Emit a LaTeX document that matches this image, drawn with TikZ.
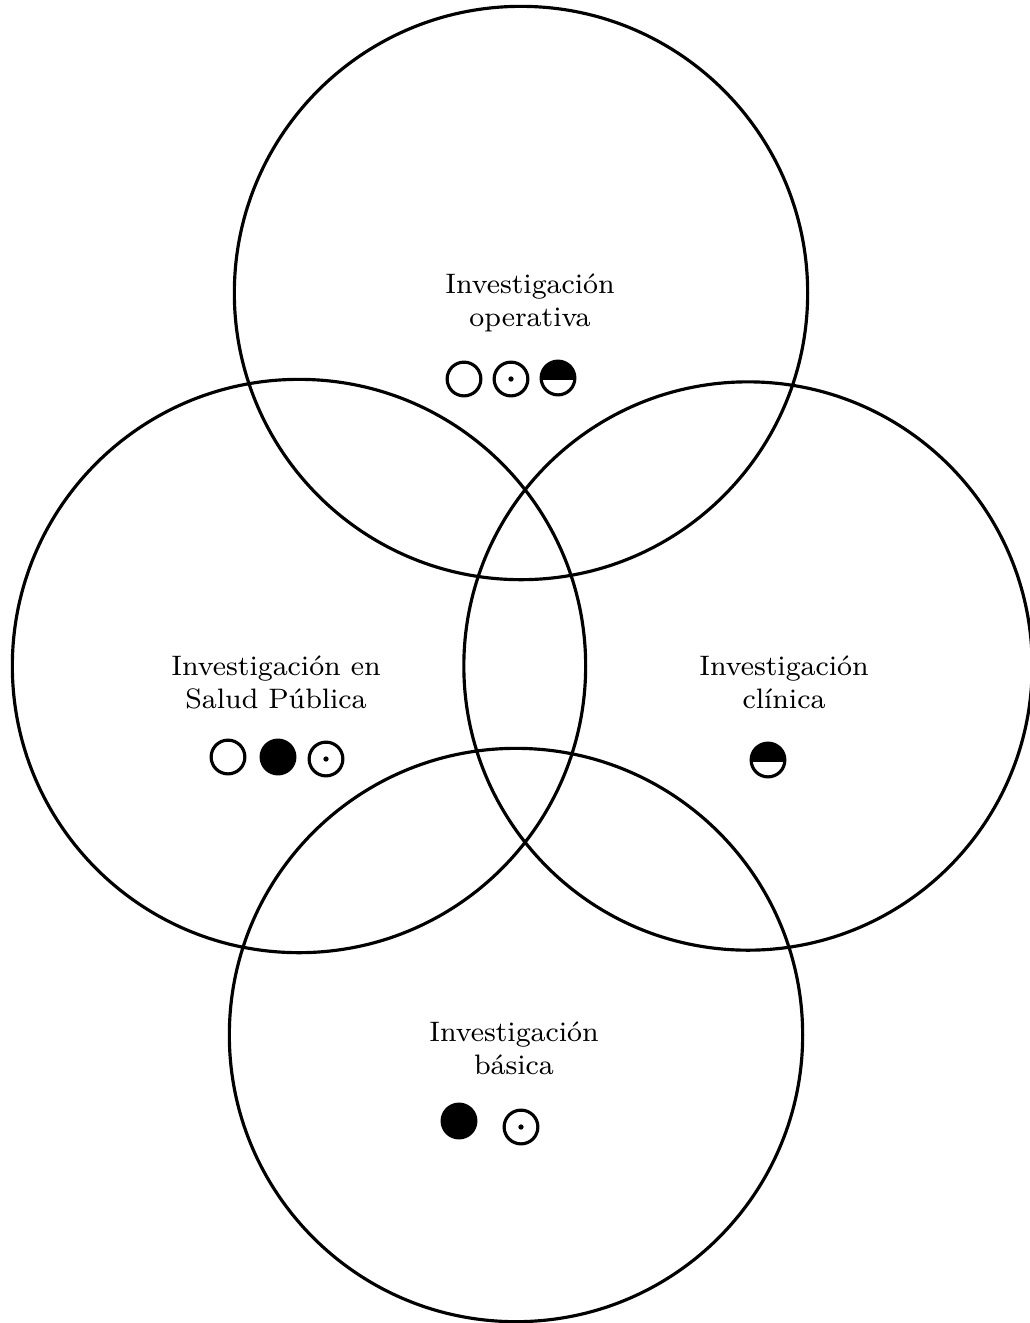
\documentclass[tikz,border=0pt]{standalone}
\begin{document}
\begin{tikzpicture}[x=0.01cm,y=-0.01cm,
    circulo/.style={line width=0.9pt},
    rotulo/.style={align=center,font=\fontsize{8}{9.4}\selectfont},
    simbolo/.style={circle,draw,line width=0.9pt,minimum size=9.6pt,inner sep=0pt},
    vacio/.style={simbolo},
    lleno/.style={simbolo,fill=black},
    punto/.style={simbolo,path picture={\fill (path picture bounding box.center) circle (0.75pt);}},
    mitad/.style={simbolo,path picture={\fill ([yshift=-0.6pt]path picture bounding box.west) rectangle (path picture bounding box.north east);}}]

        % Tamaños
        \def\R{2.865cm}   % radio de los círculos

        \useasboundingbox (0,0) rectangle (1029,1323);

        % Círculos
        \draw[circulo] (521,293) circle (\R); % operativa
        \draw[circulo] (299,666) circle (\R); % salud pública
        \draw[circulo] (748,666) circle (2.84cm); % clínica
        \draw[circulo] (516,1035) circle (\R); % básica

        % Rótulos
        \node[rotulo] (operativa) at (530,303) {Investigación\\operativa};
        \node[rotulo] (salud) at (276,682) {Investigación en\\Salud Pública};
        \node[rotulo] (clinica) at (784,682) {Investigación\\clínica};
        \node[rotulo] (basica) at (514,1048) {Investigación\\básica};

        % Símbolos
        \node[vacio] (op1) at (464,379) {};
        \node[punto] (op2) at (511,379) {};
        \node[mitad] (op3) at (558,378) {};

        \node[vacio] (sp1) at (228,757) {};
        \node[lleno] (sp2) at (278,757) {};
        \node[punto] (sp3) at (326,759) {};

        \node[mitad] (cl1) at (768,760) {};

        \node[lleno] (ba1) at (459,1121) {};
        \node[punto] (ba2) at (521,1127) {};

\end{tikzpicture}
\end{document}
